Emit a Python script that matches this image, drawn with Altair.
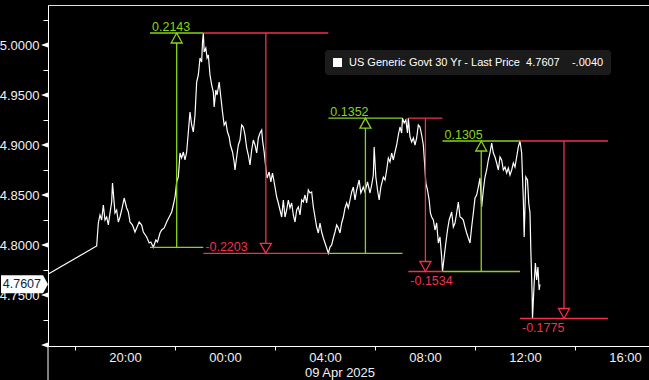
import altair as alt
import pandas as pd

# ---------------- data ----------------
# minutes after 20:00 on 08 Apr 2025
minutes = [
    -184, -68, -64, -60, -56, -52, -48, -44, -40, -36, -32, -30, -26, -24, -20, -16, -12, -8, -2,
    4, 8, 12, 18, 24, 28, 34, 40, 44, 52, 58, 62, 68, 74, 78, 84, 88, 94, 100, 106, 112, 116,
    120, 122, 124, 128, 132, 136, 140, 144, 148, 152, 156, 160, 164, 168, 172, 176, 180, 184,
    186, 188, 190, 194, 197, 200, 204, 208, 212, 214, 218, 221, 226, 230, 234, 238, 242, 246,
    250, 253, 258, 262, 264, 268, 272, 276, 280, 284, 288, 292, 296, 300, 304, 308, 312, 316,
    320, 324, 328, 330, 334, 338, 341, 346, 350, 354, 360, 364, 368, 372, 376, 380, 384, 388,
    392, 396, 400, 404, 408, 412, 416, 420, 424, 428, 432, 436, 440, 444, 448, 452, 456, 460,
    464, 468, 472, 476, 480, 484, 488, 492, 496, 500, 504, 508, 512, 516, 520, 524, 528, 532,
    536, 540, 544, 548, 552, 556, 562, 566, 572, 576, 582, 588, 592, 596, 598, 602, 606, 610,
    614, 620, 624, 628, 632, 636, 640, 644, 648, 652, 656, 660, 664, 666, 670, 674, 678, 680,
    684, 688, 692, 696, 700, 704, 708, 712, 716, 718, 722, 726, 730, 733, 736, 740, 744, 748,
    752, 756, 760, 762, 766, 770, 774, 778, 784, 788, 792, 796, 800, 804, 808, 812, 816, 820,
    824, 828, 832, 836, 840, 844, 848, 852, 856, 860, 864, 868, 872, 876, 880, 884, 888, 892,
    896, 900, 904, 908, 912, 916, 920, 924, 928, 932, 936, 940, 944, 948, 952, 956, 958, 962,
    966, 969, 972, 974, 977, 978, 982, 985, 988, 991, 994, 996,
]
yields = [
    4.771, 4.799, 4.822, 4.830, 4.825, 4.840, 4.825, 4.828, 4.820, 4.832, 4.843, 4.862, 4.842, 4.832, 4.835, 4.823, 4.828, 4.835, 4.847,
    4.837, 4.833, 4.823, 4.820, 4.813, 4.817, 4.823, 4.820, 4.813, 4.808, 4.802, 4.803, 4.7977, 4.805, 4.803, 4.812, 4.815, 4.817, 4.823, 4.828, 4.833, 4.840,
    4.848, 4.855, 4.863, 4.868, 4.892, 4.887, 4.893, 4.885, 4.893, 4.913, 4.933, 4.920, 4.913, 4.930, 4.963, 4.970, 4.987, 4.983,
    5.003, 5.0120, 4.993, 4.997, 4.987, 4.990, 4.970, 4.960, 4.953, 4.938, 4.955, 4.950, 4.963, 4.948, 4.933, 4.920, 4.923, 4.913,
    4.908, 4.900, 4.893, 4.883, 4.875, 4.888, 4.900, 4.905, 4.920, 4.918, 4.910, 4.897, 4.890, 4.880, 4.895, 4.905, 4.900, 4.892,
    4.907, 4.912, 4.915, 4.905, 4.893, 4.877, 4.867, 4.873, 4.863, 4.872, 4.858, 4.848, 4.842, 4.835, 4.828, 4.845, 4.828, 4.835,
    4.845, 4.837, 4.842, 4.830, 4.823, 4.835, 4.838, 4.830, 4.845, 4.843, 4.850, 4.842, 4.855, 4.852, 4.853, 4.838, 4.828, 4.818,
    4.812, 4.822, 4.813, 4.807, 4.802, 4.797, 4.7917, 4.798, 4.800, 4.807, 4.813, 4.820, 4.817, 4.812, 4.822, 4.828, 4.837, 4.842,
    4.837, 4.845, 4.853, 4.858, 4.845, 4.855, 4.865, 4.852, 4.858, 4.853, 4.863, 4.852, 4.860, 4.870, 4.898, 4.868, 4.855, 4.845,
    4.858, 4.868, 4.865, 4.875, 4.887, 4.883, 4.892, 4.885, 4.893, 4.900, 4.910, 4.918, 4.912, 4.9269, 4.922, 4.925, 4.912, 4.9269,
    4.908, 4.903, 4.907, 4.900, 4.907, 4.920, 4.918, 4.910, 4.900, 4.888, 4.862, 4.855, 4.845, 4.832, 4.828, 4.825, 4.815, 4.822,
    4.802, 4.808, 4.788, 4.7735, 4.788, 4.802, 4.815, 4.825, 4.833, 4.818, 4.822, 4.832, 4.843, 4.828, 4.827, 4.825, 4.818, 4.812,
    4.807, 4.802, 4.818, 4.832, 4.847, 4.850, 4.858, 4.867, 4.838, 4.855, 4.868, 4.875, 4.885, 4.892, 4.902, 4.892, 4.888, 4.882,
    4.875, 4.888, 4.885, 4.875, 4.878, 4.872, 4.877, 4.870, 4.875, 4.882, 4.878, 4.888, 4.898, 4.9040, 4.892, 4.845, 4.808, 4.868,
    4.865, 4.842, 4.832, 4.795, 4.752, 4.7265, 4.762, 4.782, 4.765, 4.778, 4.755, 4.7607,
]
series_name = "US Generic Govt 30 Yr - Last Price"
last_change = -0.0040

# measurement annotations (minutes after 20:00, yield levels)
m_start = [60, 188, 488, 680, 762, 948]
m_end = [188, 488, 666, 762, 948, 1159]
m_from = [4.7977, 5.0120, 4.7917, 4.9269, 4.7735, 4.9040]
m_to = [5.0120, 4.7917, 4.9269, 4.7735, 4.9040, 4.7265]
m_side = ["above", "above", "above", "below", "above", "below"]

y_tick_values = [4.700, 4.725, 4.750, 4.775, 4.800, 4.825, 4.850, 4.875,
                 4.900, 4.925, 4.950, 4.975, 5.000, 5.025]
y_major = [4.70, 4.75, 4.80, 4.85, 4.90, 4.95, 5.00]
# x ticks: (date, hour)
x_tick_hours = [(8, 18), (8, 20), (8, 22), (9, 0), (9, 2), (9, 4), (9, 6),
                (9, 8), (9, 10), (9, 12), (9, 14), (9, 16)]

# ---------------- build tables ----------------
base = pd.Timestamp("2025-04-08 20:00")
def t(m):
    return base + pd.to_timedelta(m, unit="m")

last = yields[-1]
chg = f"{last_change:.4f}".replace("-0.", "-.")
legend_label = f"{series_name}\u00a0\u00a0{last:.4f}\u00a0\u00a0\u00a0\u00a0{chg}"

df = pd.DataFrame({"time": [t(m) for m in minutes], "value": yields,
                   "series": legend_label})

meas = pd.DataFrame({
    "start": [t(s) for s in m_start],
    "end": [t(e) for e in m_end],
    "mid": [t((s + e) / 2) for s, e in zip(m_start, m_end)],
    "from": m_from,
    "to": m_to,
    "direction": ["up" if b > a else "down" for a, b in zip(m_from, m_to)],
    "label": [f"{b - a:.4f}" for a, b in zip(m_from, m_to)],
    "side": m_side,
})
segs = pd.concat([
    meas[["start", "end", "direction"]].assign(level=meas["from"]),
    meas[["start", "end", "direction"]].assign(level=meas["to"]),
], ignore_index=True)

x_lo = alt.DateTime(year=2025, month=4, date=8, hours=16, minutes=55, seconds=12)
x_hi = alt.DateTime(year=2025, month=4, date=9, hours=16, minutes=57, seconds=36)
x0 = base - pd.Timedelta(seconds=184.8 * 60)

flag = pd.DataFrame({"time": [x0], "value": [last], "label": [f"{last:.4f}"]})
ytri = pd.DataFrame({"time": [x0] * len(y_major), "value": y_major})

# ---------------- styling ----------------
GREEN = "#8ad21c"
RED = "#f2304a"
FONT = "Liberation Sans"
LBL = "#eef1f6"

xscale = alt.Scale(domain=[x_lo, x_hi])
yscale = alt.Scale(domain=[4.699, 5.040], nice=False, zero=False)

x_axis = alt.Axis(
    format="%H:%M",
    values=[alt.DateTime(year=2025, month=4, date=d, hours=h) for d, h in x_tick_hours],
    labelExpr="hours(datum.value) % 4 == 0 ? datum.label : ''",
    tickSize=4, tickColor="white",
    tickOpacity={"condition": {"test": "hours(datum.value) % 4 == 0", "value": 0}, "value": 1},
    domainColor="white", domainWidth=1, grid=False,
    labelColor=LBL, labelFont=FONT, labelFontSize=13, labelPadding=1,
    labelFlush=False, labelOverlap=False,
    title="09 Apr 2025", titleX=291.5, titleY=30, titleBaseline="alphabetic",
    titleAlign="center", titleColor=LBL, titleFont=FONT, titleFontSize=13,
    titleFontWeight="normal",
)
y_axis = alt.Axis(
    values=y_tick_values,
    labelExpr="(round(datum.value*1000) % 50 == 0 && datum.value > 4.72) ? format(datum.value, '.4f') : ''",
    tickSize=5, tickColor="white", domainColor="white", domainWidth=1, grid=False,
    labelColor=LBL, labelFont=FONT, labelFontSize=13, labelPadding=4,
    labelOverlap=False, labelFlush=False, title=None,
)

def X(field):
    return alt.X(field, type="temporal", scale=xscale, axis=x_axis)

def Y(field):
    return alt.Y(field, type="quantitative", scale=yscale, axis=y_axis)

dir_color = alt.Color("direction:N", scale=alt.Scale(domain=["up", "down"], range=[GREEN, RED]), legend=None)

UP = "M 0 0 L 0.55 1 L -0.55 1 Z"
DOWN = "M 0 0 L 0.55 -1 L -0.55 -1 Z"
FLAG = "M 0 0 L -0.106 -0.19 L -1 -0.19 L -1 0.19 L -0.106 0.19 Z"
TRI = "M 0 -0.36 L 0 0.36 L -1 0 Z"

# ---------------- layers ----------------
line = alt.Chart(df).mark_line(strokeWidth=1.2, color="white").encode(
    x=X("time"), y=Y("value"),
    color=alt.Color("series:N", scale=alt.Scale(range=["white"]), legend=alt.Legend(
        title=None, orient="none", legendX=277, legendY=45,
        fillColor="#1b1b1b", cornerRadius=3, padding=7,
        symbolType="square", symbolSize=81, symbolFillColor="white",
        symbolStrokeColor="white", symbolStrokeWidth=0,
        labelFont=FONT, labelFontSize=11, labelColor="white",
        labelLimit=500, labelOffset=6,
    )),
)

hrules = alt.Chart(segs).mark_rule(strokeWidth=1.3).encode(
    x=X("start"), x2="end", y=Y("level"), color=dir_color)

vrules = alt.Chart(meas).mark_rule(strokeWidth=1.3).encode(
    x=X("mid"), y=Y("from"), y2="to", color=dir_color)

def arrow_layer(direction, shape):
    src = alt.Chart(meas).transform_filter(f"datum.direction == '{direction}'")
    mask = src.mark_point(shape=shape, filled=True, color="black", opacity=1, size=400).encode(
        x=X("mid"), y=Y("to"))
    outline = src.mark_point(shape=shape, filled=False, opacity=1, size=400, strokeWidth=1.3).encode(
        x=X("mid"), y=Y("to"), color=dir_color)
    return [mask, outline]

labels_above = alt.Chart(meas).transform_filter("datum.side == 'above'").mark_text(
    align="left", baseline="alphabetic", dx=2, dy=-2, font=FONT, fontSize=12.5).encode(
    x=X("start"), y=Y("to"), text="label:N", color=dir_color)

labels_below = alt.Chart(meas).transform_filter("datum.side == 'below'").mark_text(
    align="left", baseline="alphabetic", dx=2, dy=13, font=FONT, fontSize=12.5).encode(
    x=X("start"), y=Y("to"), text="label:N", color=dir_color)

axis_tris = alt.Chart(ytri).mark_point(shape=TRI, size=196, filled=True, color="white", opacity=1).encode(
    x=X("time"), y=Y("value"))

flag_shape = alt.Chart(flag).mark_point(shape=FLAG, size=8836, filled=True, color="white", opacity=1).encode(
    x=X("time"), y=Y("value"))
flag_text = alt.Chart(flag).mark_text(align="right", baseline="middle", dx=-7, font=FONT, fontSize=12.5, color="#0d1b3e").encode(
    x=X("time"), y=Y("value"), text="label:N")

# the left axis line continues down through the time-axis band
axis_ext = alt.Chart(flag).mark_rule(color="white", strokeWidth=1).encode(
    x=X("time"), y=alt.value(341), y2=alt.value(376))

chart = alt.layer(
    line, hrules, vrules, *arrow_layer("up", UP), *arrow_layer("down", DOWN),
    labels_above, labels_below, axis_tris, flag_shape, flag_text, axis_ext,
).resolve_scale(color="independent").properties(
    width=601, height=341,
    padding={"left": 48, "top": 5, "right": 0, "bottom": 34},
    autosize=alt.AutoSizeParams(type="none"),
    background="black",
)

chart.save("out.html", embed_options={"renderer": "svg", "actions": False})
